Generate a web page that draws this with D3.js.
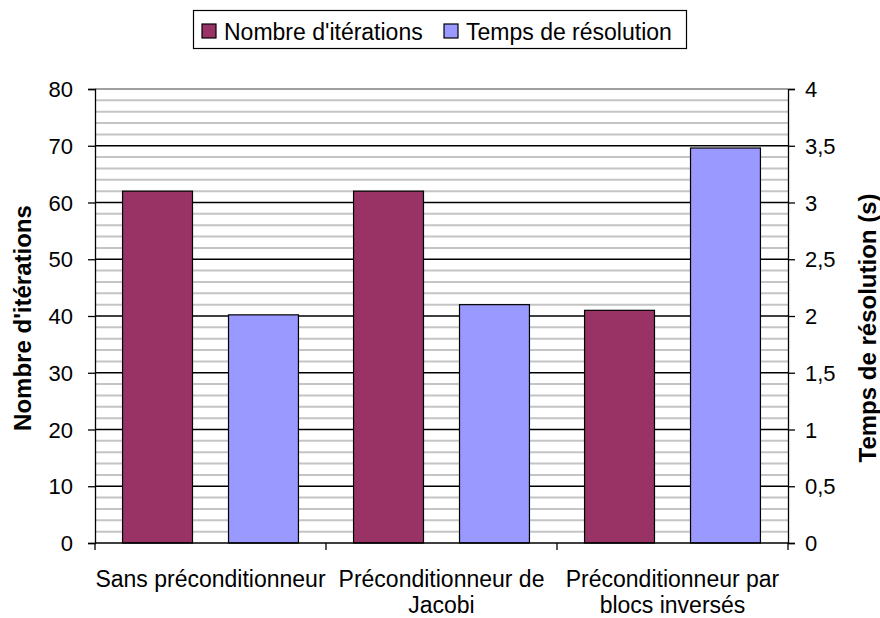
<!DOCTYPE html>
<html>
<head>
<meta charset="utf-8">
<script src="https://cdn.jsdelivr.net/npm/d3@7"></script>
<style>
  html, body { margin: 0; padding: 0; background: #fff; }
  svg { display: block; font-family: "Liberation Sans", Arial, sans-serif; }
</style>
</head>
<body>
<svg id="chart" width="880" height="618"></svg>
<script>
// Categories (multi-line labels) and series
const categories = ["Sans préconditionneur", "Préconditionneur de Jacobi", "Préconditionneur par blocs inversés"];
const categoryLines = [["Sans préconditionneur"], ["Préconditionneur de", "Jacobi"], ["Préconditionneur par", "blocs inversés"]];
const iterations = [62, 62, 41];
const times = [2.01, 2.1, 3.48];
const leftTicks = [0, 10, 20, 30, 40, 50, 60, 70, 80];
const rightTicks = [0, 0.5, 1, 1.5, 2, 2.5, 3, 3.5, 4];
const seriesNames = ["Nombre d'itérations", "Temps de résolution"];
const colors = ["#993366", "#9999FF"];

const svg = d3.select("#chart");
const m = { left: 95, right: 788, top: 89, bottom: 543 };

const x = d3.scaleBand().domain(categories).range([m.left, m.right]).paddingInner(0).paddingOuter(0);
const inner = d3.scaleBand().domain([0, 1]).range([0, x.bandwidth()]).paddingInner(0.34).paddingOuter(0.26);
const yL = d3.scaleLinear().domain([0, 80]).range([m.bottom, m.top]);
const yR = d3.scaleLinear().domain([0, 4]).range([m.bottom, m.top]);

// Minor gridlines every 2 iterations
const minor = d3.range(2, 80, 2).filter(v => v % 10 !== 0);
svg.append("g").selectAll("line").data(minor).join("line")
  .attr("x1", m.left).attr("x2", m.right)
  .attr("y1", d => yL(d)).attr("y2", d => yL(d))
  .attr("stroke", "#c4c4c4").attr("stroke-width", 2);

// Major gridlines
svg.append("g").selectAll("line").data(leftTicks.filter(v => v > 0)).join("line")
  .attr("x1", m.left).attr("x2", m.right)
  .attr("y1", d => yL(d)).attr("y2", d => yL(d))
  .attr("stroke", d => d === 80 ? "#808080" : "#000").attr("stroke-width", 1.3);

// Bars
const bars = svg.append("g");
categories.forEach((c, i) => {
  [iterations[i], times[i]].forEach((v, s) => {
    const yy = s === 0 ? yL(v) : yR(v);
    bars.append("rect")
      .attr("x", x(c) + inner(s))
      .attr("y", yy)
      .attr("width", inner.bandwidth())
      .attr("height", m.bottom - yy)
      .attr("fill", colors[s])
      .attr("stroke", "#000").attr("stroke-width", 1.2);
  });
});

// Left axis
const gL = svg.append("g").attr("transform", `translate(${m.left},0)`)
  .call(d3.axisLeft(yL).tickValues(leftTicks).tickSize(7).tickPadding(15).tickFormat(d3.format("d")));
// Right axis
const fmtR = d => String(d).replace(".", ",");
const gR = svg.append("g").attr("transform", `translate(${m.right},0)`)
  .call(d3.axisRight(yR).tickValues(rightTicks).tickSize(7).tickPadding(10).tickFormat(fmtR));
// Bottom axis (category separators)
const sep = [m.left, ...categories.map(c => x(c) + x.bandwidth())];
const gB = svg.append("g");
gB.append("line").attr("x1", m.left).attr("x2", m.right).attr("y1", m.bottom).attr("y2", m.bottom)
  .attr("stroke", "#000").attr("stroke-width", 1.3);
gB.selectAll("line.t").data(sep).join("line").attr("class", "t")
  .attr("x1", d => d).attr("x2", d => d).attr("y1", m.bottom).attr("y2", m.bottom + 7)
  .attr("stroke", "#000").attr("stroke-width", 1.3);

[gL, gR].forEach(g => {
  g.select(".domain").attr("stroke", "#000").attr("stroke-width", 1.3);
  g.selectAll(".tick line").attr("stroke", "#000").attr("stroke-width", 1.3);
  g.selectAll(".tick text").attr("font-size", 22).attr("fill", "#000").attr("dy", "0.35em")
    .attr("font-family", "Liberation Sans, Arial, sans-serif");
});

// Category labels
const lab = svg.append("g").attr("font-size", 23).attr("text-anchor", "middle").attr("fill", "#000");
categories.forEach((c, i) => {
  categoryLines[i].forEach((t, k) => {
    lab.append("text").attr("x", x(c) + x.bandwidth() / 2).attr("y", 587 + k * 26).text(t);
  });
});

// Axis titles
svg.append("text").attr("transform", `translate(31,318) rotate(-90)`)
  .attr("text-anchor", "middle").attr("font-size", 24).attr("font-weight", "bold").text("Nombre d'itérations");
svg.append("text").attr("transform", `translate(876,328) rotate(-90)`)
  .attr("text-anchor", "middle").attr("font-size", 24).attr("font-weight", "bold").text("Temps de résolution (s)");

// Legend
const lg = svg.append("g");
lg.append("rect").attr("x", 193.5).attr("y", 10.5).attr("width", 493).attr("height", 38)
  .attr("fill", "#fff").attr("stroke", "#000").attr("stroke-width", 1.2);
const lx = [202, 444];
seriesNames.forEach((n, i) => {
  lg.append("rect").attr("x", lx[i]).attr("y", 24).attr("width", 14).attr("height", 14)
    .attr("fill", colors[i]).attr("stroke", "#000").attr("stroke-width", 1.2);
  lg.append("text").attr("x", lx[i] + 22).attr("y", 40).attr("font-size", 23).attr("fill", "#000").text(n);
});
</script>
</body>
</html>
